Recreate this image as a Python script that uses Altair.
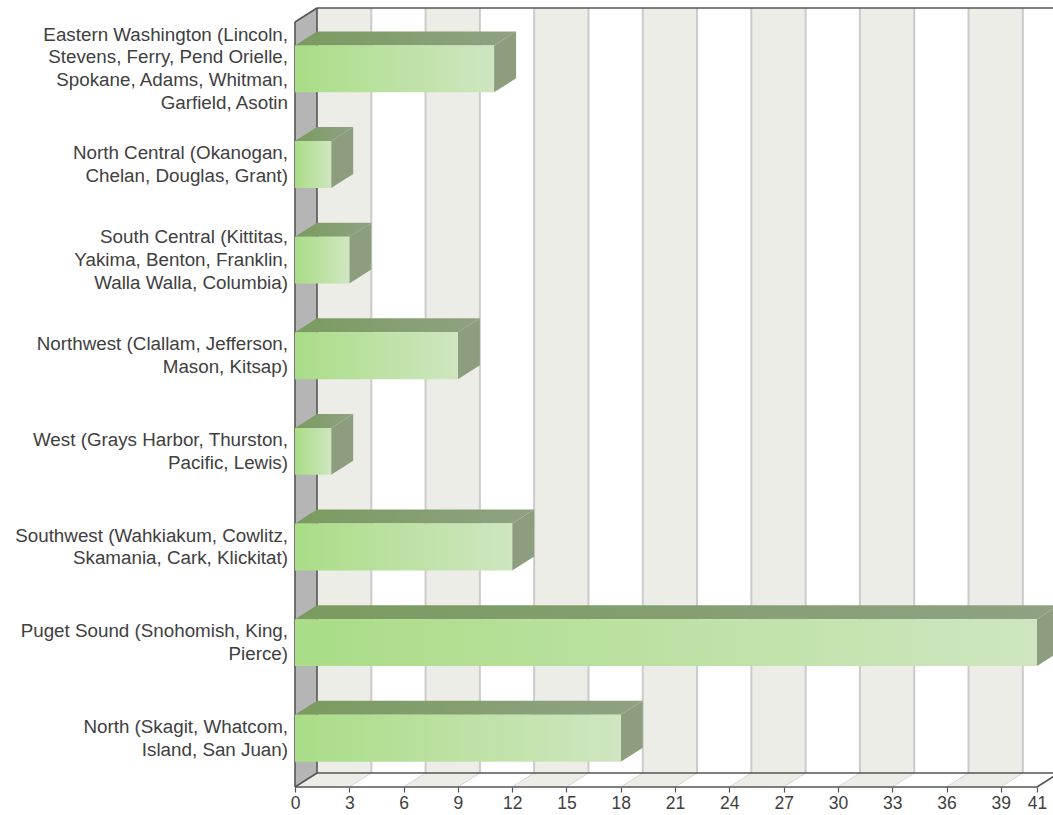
import altair as alt
import pandas as pd

# ---- data -------------------------------------------------------------
region_lines = [
    ["Eastern Washington (Lincoln,", "Stevens, Ferry, Pend Orielle,",
     "Spokane, Adams, Whitman,", "Garfield, Asotin"],
    ["North Central (Okanogan,", "Chelan, Douglas, Grant)"],
    ["South Central (Kittitas,", "Yakima, Benton, Franklin,", "Walla Walla, Columbia)"],
    ["Northwest (Clallam, Jefferson,", "Mason, Kitsap)"],
    ["West (Grays Harbor, Thurston,", "Pacific, Lewis)"],
    ["Southwest (Wahkiakum, Cowlitz,", "Skamania, Cark, Klickitat)"],
    ["Puget Sound (Snohomish, King,", "Pierce)"],
    ["North (Skagit, Whatcom,", "Island, San Juan)"],
]
responses = [11, 2, 3, 9, 2, 12, 41, 18]
tick_values = [0, 3, 6, 9, 12, 15, 18, 21, 24, 27, 30, 33, 36, 39, 41]
axis_max = 41

# ---- layout -----------------------------------------------------------
W, H = 758, 779                    # plot area in pixels
PX_PER_UNIT = 742 / axis_max       # front face scale
ROW_PX = 765 / len(responses)      # front row height
DEPTH_X_PX, DEPTH_Y_PX = 22, 14    # oblique 3-D depth
DX = DEPTH_X_PX / PX_PER_UNIT      # depth in value units
DY = DEPTH_Y_PX / ROW_PX           # depth in row units
X_DOM = W / PX_PER_UNIT
N = len(responses)
BAR_TOP, BAR_BOT, ROW_MID = 0.245, 0.735, 0.49
LINE_H = 22.7                      # label line height, px

xs = alt.Scale(domain=[0, X_DOM], nice=False, zero=False)
ys = alt.Scale(domain=[-DY, N], nice=False, zero=False, reverse=True)
x_axis = alt.Axis(values=tick_values, domain=False, grid=False, tickSize=5,
                  tickColor="#555555", tickWidth=1.2, labelFont="Liberation Sans",
                  labelFontSize=17.5, labelColor="#404040", labelPadding=2,
                  labelOverlap=False, labelFlush=False, title=None)


def X(f):
    return alt.X(f, type="quantitative", scale=xs, axis=x_axis)


def Y(f):
    return alt.Y(f, type="quantitative", scale=ys, axis=None, stack=None)


# ---- back wall bands and grid ------------------------------------------
bands = []
for k in range(0, 15):
    if k % 2 == 0:
        bands.append({"x": 3 * k + DX, "x2": 3 * k + 3 + DX, "y": -DY, "y2": N - DY})
wall = alt.Chart(pd.DataFrame(bands)).mark_rect(fill="#ededE8").encode(
    x=X("x"), x2="x2", y=Y("y"), y2="y2")

grid_df = pd.DataFrame([{"x": t + DX, "y": -DY, "y2": N - DY} for t in range(3, 42, 3)])
grid = alt.Chart(grid_df).mark_rule(stroke="#cbcbcb", strokeWidth=2).encode(
    x=X("x"), y=Y("y"), y2="y2")

# ---- floor ---------------------------------------------------------------
floor_pts = []
for k in range(0, 15, 2):
    a = 3 * k
    for x, top, bot in [(a, N, N), (a + DX, N - DY, N), (a + 3, N - DY, N),
                        (a + 3 + DX, N - DY, N - DY)]:
        floor_pts.append({"band": k, "x": x, "top": top, "bot": bot})
floor = alt.Chart(pd.DataFrame(floor_pts)).mark_area(
    fill="#ededE8", orient="vertical", interpolate="linear").encode(
    x=X("x"), y=Y("top"), y2="bot", detail="band:N")

diag_df = pd.DataFrame([{"x": t, "y": N, "x2": t + DX, "y2": N - DY}
                        for t in range(3, 42, 3)])
diags = alt.Chart(diag_df).mark_rule(stroke="#d4d4d4", strokeWidth=1).encode(
    x=X("x"), y=Y("y"), x2="x2", y2="y2")

# ---- left wall -----------------------------------------------------------
lw_df = pd.DataFrame([{"x": 0, "top": 0, "bot": N}, {"x": DX, "top": -DY, "bot": N - DY}])
left_wall = alt.Chart(lw_df).mark_area(fill="#b5b5b5", orient="vertical").encode(
    x=X("x"), y=Y("top"), y2="bot")

# ---- frame edges ---------------------------------------------------------
edges = pd.DataFrame([
    {"x": 0, "y": 0, "x2": 0, "y2": N},
    {"x": 0, "y": 0, "x2": DX, "y2": -DY},
    {"x": DX, "y": -DY, "x2": DX, "y2": N - DY},
    {"x": DX, "y": -DY, "x2": X_DOM, "y2": -DY},
    {"x": 0, "y": N, "x2": DX, "y2": N - DY},
    {"x": DX, "y": N - DY, "x2": X_DOM, "y2": N - DY},
    {"x": 0, "y": N, "x2": axis_max, "y2": N},
    {"x": axis_max, "y": N, "x2": axis_max + DX, "y2": N - DY},
])
frame = alt.Chart(edges).mark_rule(stroke="#555555", strokeWidth=1.6).encode(
    x=X("x"), y=Y("y"), x2="x2", y2="y2")

# ---- bars ----------------------------------------------------------------
fronts, tops, sides = [], [], []
for i, v in enumerate(responses):
    yt, yb = i + BAR_TOP, i + BAR_BOT
    fronts.append({"row": i, "x": 0, "x2": v, "y": yt, "y2": yb})
    for x, top, bot in [(0, yt, yt), (DX, yt - DY, yt), (v, yt - DY, yt),
                        (v + DX, yt - DY, yt - DY)]:
        tops.append({"row": i, "x": x, "top": top, "bot": bot})
    for x, top, bot in [(v, yt, yb), (v + DX, yt - DY, yb - DY)]:
        sides.append({"row": i, "x": x, "top": top, "bot": bot})

front_grad = alt.LinearGradient(gradient="linear", x1=0, x2=1, y1=0, y2=0, stops=[
    alt.GradientStop(color="#a9dd86", offset=0),
    alt.GradientStop(color="#cfe6c0", offset=1)])
top_grad = alt.LinearGradient(gradient="linear", x1=0, x2=1, y1=0, y2=0, stops=[
    alt.GradientStop(color="#7a9b5f", offset=0),
    alt.GradientStop(color="#8fa283", offset=1)])

bar_front = alt.Chart(pd.DataFrame(fronts)).mark_rect(fill=front_grad).encode(
    x=X("x"), x2="x2", y=Y("y"), y2="y2", detail="row:N")
bar_top = alt.Chart(pd.DataFrame(tops)).mark_area(
    fill=top_grad, orient="vertical").encode(
    x=X("x"), y=Y("top"), y2="bot", detail="row:N")
bar_side = alt.Chart(pd.DataFrame(sides)).mark_area(
    fill="#8c9e7e", orient="vertical").encode(
    x=X("x"), y=Y("top"), y2="bot", detail="row:N")

# ---- category labels (multi-line block centred on each row) --------------
lab_df = pd.DataFrame({
    "label": ["\n".join(l) for l in region_lines],
    "y": [i + ROW_MID - (len(l) - 1) * LINE_H / 2 / ROW_PX
          for i, l in enumerate(region_lines)],
})
labels = alt.Chart(lab_df).mark_text(
    align="right", baseline="middle", lineBreak="\n", lineHeight=LINE_H,
    font="Liberation Sans", fontSize=18.8, color="#404040").encode(
    x=alt.value(-7), y=Y("y"), text="label:N")

chart = alt.layer(
    wall, grid, floor, diags, left_wall, frame, bar_top, bar_side, bar_front, labels
).properties(
    width=W, height=H,
    autosize=alt.AutoSizeParams(type="none"),
    padding={"left": 295, "top": 8, "right": 0, "bottom": 28},
).configure_view(strokeWidth=0)

chart.save("out.html", embed_options={"renderer": "svg", "actions": False})
